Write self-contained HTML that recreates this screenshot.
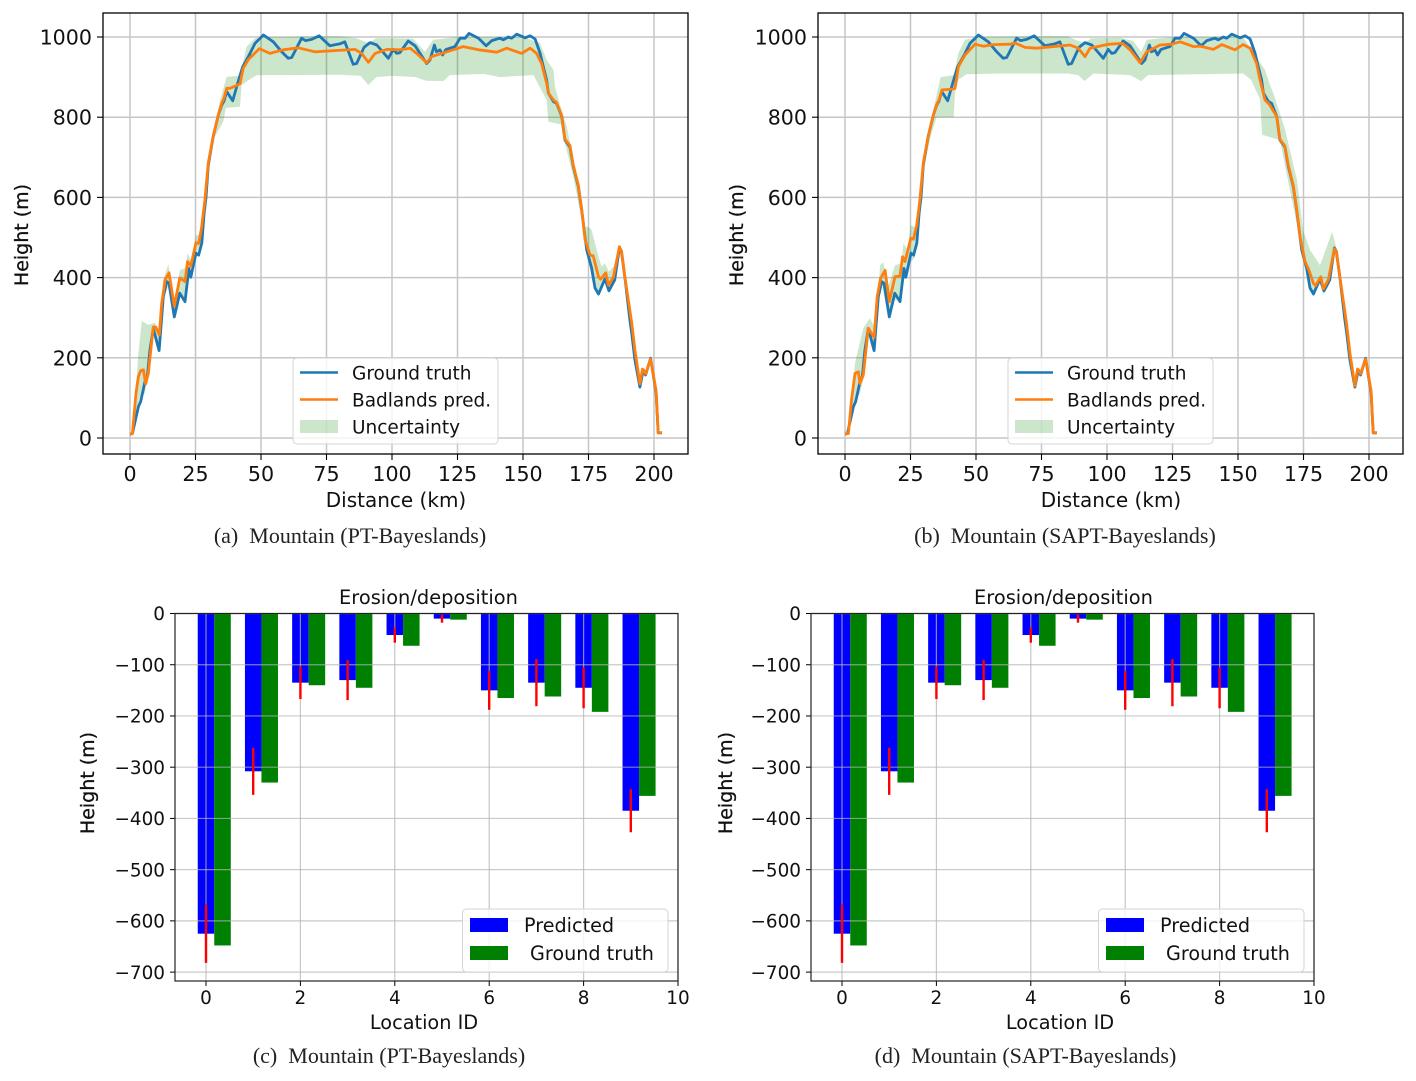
<!DOCTYPE html>
<html lang="en">
<head>
<meta charset="utf-8">
<title>Mountain height and erosion charts</title>
<style>
html,body{margin:0;padding:0;background:#fff;width:1416px;height:1081px;overflow:hidden}
svg{display:block;filter:blur(0.35px)}
text{font-family:"DejaVu Sans","Liberation Sans",sans-serif;fill:#111}
.caption{font-family:"Liberation Serif",serif;font-size:22px;fill:#222;text-anchor:middle}
</style>
</head>
<body>
<svg id="figure" xmlns="http://www.w3.org/2000/svg" width="1416" height="1081" viewBox="0 0 1416 1081"></svg>
<script>
// ---------- Height profile data ----------
const profileXTicks = [0, 25, 50, 75, 100, 125, 150, 175, 200];
const profileYTicks = [0, 200, 400, 600, 800, 1000];

const truthKm = [0,0.9,3.2,4.1,5.7,6.6,7.6,8.9,11.1,12.7,14,14.9,16.9,19,21,22.5,23.2,25.2,26.2,27.4,28.3,29,29.9,31.7,33.7,35,35.9,36.9,39.2,41.3,43,45.2,47.7,50.9,54.7,57.9,60.4,61.7,65.5,67,69.3,72.2,76.3,80.2,82,85.2,86.5,89.3,91.6,94.2,98.6,100.5,101.8,103,106.2,108.8,113.2,114.5,116.2,117,118.3,119.3,120.6,124,126,127.9,129.4,133,135.9,138.1,141.2,142.5,144.4,145.7,147.6,150.8,152.7,154.6,156.5,157.8,159,159.7,161.6,162.8,164.8,166,167.9,169.2,171.1,172.4,173.7,174.3,176.2,177.5,178.8,181.3,182.8,185,186.8,187.6,189,190.8,191.5,192.7,194.6,195.9,196.8,198.7,200.8,201.6,203];
const truthHeight = [10,11,78,91,140,153,219,273,218,352,390,386,302,361,340,423,401,461,456,486,560,600,680,751,805,830,841,864,841,889,926,951,984,1005,988,963,947,949,997,991,994,1003,978,983,988,932,934,974,986,980,947,969,959,961,990,978,934,943,980,963,968,955,969,976,997,997,1009,997,978,991,997,993,1000,997,1007,998,1003,995,960,925,893,860,839,835,801,743,726,677,627,568,500,469,424,374,359,397,367,394,474,464,394,294,262,195,127,170,157,199,112,13,13];

const predAKm = [0,0.9,2.3,3.2,4.1,5.1,6,7,8.9,9.8,11.2,12.1,13.4,14.9,16.9,19,21,22,23.2,25.2,26.2,27.3,28.6,29.9,31.7,33.7,35,35.9,36.9,38.2,42,43.2,45.2,49.4,53.4,58.5,64.2,70.6,85.9,88.4,91,93.5,98,103,106.9,109.4,113.2,115.2,119,127.2,133,140,143.8,149.5,152.7,155.2,157.1,159,159.7,161.6,162.8,164.8,166,167.9,169.2,171.1,172.4,173.7,175.6,176.8,178.8,179.6,181.6,182.6,184.5,186.8,187.6,189,191.5,192.7,194.6,195.6,196.8,198.7,200.8,201.6,203];
const predAHeight = [10,11,112,153,168,170,135,161,277,277,257,336,394,412,329,399,390,440,429,487,485,523,594,686,751,805,835,848,872,872,883,922,944,971,959,968,973,963,969,959,937,959,969,968,972,959,936,951,959,976,968,962,972,959,972,959,934,885,860,843,837,803,745,730,680,630,570,494,456,454,402,396,412,381,401,477,466,396,287,220,135,172,160,197,118,13,13];

const upperAKm = [0.9,1.9,3.2,4.5,7,9.5,11.1,12.7,14.6,16.9,19,21,22,23.2,25.2,27.4,28.5,30,32,34.4,36.9,42,44.5,47.7,52,60,70,80,86.5,91,94,100,108,112.6,115.7,125,150,156.5,159,161.6,162.2,164,166.7,169.2,171.8,173.7,175,176.2,178.8,180,181.3,182.8,185,186.8,188.5,190.8,192.7,194.6,195.9,196.8,198.7,200.8,201.6,203];
const upperAHeight = [11,95,212,292,282,288,262,394,433,344,418,424,461,444,506,506,600,700,770,843,901,903,976,997,1000,1000,1002,1002,997,985,997,997,996,963,993,1000,1000,985,943,918,876,835,776,693,627,527,527,519,452,427,436,415,431,482,452,305,225,135,175,162,202,120,14,14];
const lowerAKm = [0.9,3.8,5.7,7,8.9,10.9,12.7,14.5,16.9,19,21,22.5,25.2,27.4,28.3,30,32.4,35.6,36.6,42,42.6,44.5,48.4,60,80,88,91,94,100,109,113,119.6,122,135,141,154,156,159,159.7,164.8,166,169.2,172.4,174,176.8,178.8,181.3,182.8,185,186.8,189,190.8,192.7,194.6,195.9,196.8,198.7,200.8,201.6,203];
const lowerAHeight = [10,103,112,170,262,219,345,377,304,356,344,410,461,484,555,670,751,789,823,826,880,889,905,905,906,903,880,900,903,900,891,890,905,908,900,905,880,843,789,781,735,652,544,470,386,357,397,367,390,470,392,292,193,125,168,155,197,110,12,12];

const predBKm = [0,1.3,2.5,3.8,5.1,5.7,7,8.9,11.1,12.3,13.6,15.3,16.9,19.1,21,22,22.9,25.1,26.1,27.4,28.6,29.9,31.7,33.7,35,36,37,41,42,43.3,45.8,49.6,52.8,56.6,62.9,64.9,68.7,73.2,85.9,89,91.6,93.5,99.9,101.1,106,108.8,112.6,115.2,120.3,124.7,127.9,133,135.5,140.6,143.8,148.8,152,154.6,157.1,158.4,160.3,162,164.8,166,167.9,169.2,171.1,172.4,173.7,175.6,177,178.8,179.6,181.6,182.6,184.5,186.8,187.6,189,191.5,192.7,194.6,195.6,196.8,198.7,200.8,201.6,203];
const predBHeight = [10,11,95,161,165,136,157,274,251,352,398,418,340,402,404,452,440,498,496,531,594,686,751,805,832,845,868,870,872,926,955,982,977,981,982,985,974,972,980,972,951,972,981,982,984,968,936,963,980,982,988,976,977,969,981,968,981,972,934,893,843,832,801,745,728,680,630,570,500,440,420,385,380,402,372,395,472,462,396,283,212,130,172,160,197,118,13,13];

const upperBKm = [1.3,3.8,7,9.5,11.5,13.4,14.6,16.5,19.1,21.6,22.3,23.8,25.1,26.7,28.6,30.5,33,36.5,41.5,43.3,45.8,52,70,85,89,91.4,94,105,110,113,115.2,125,152,157,160.3,162,164,168,172.5,174.8,177.5,181.3,185.9,187.8,189,191.5,192.7,194.6,195.6,196.8,198.7,200.8,201.6,203];
const upperBHeight = [12,187,274,299,274,431,439,377,431,436,486,469,531,526,610,700,800,900,905,960,993,1000,1002,1002,990,985,997,998,990,963,993,1000,1000,950,918,885,850,768,643,519,469,431,514,469,400,290,218,135,175,163,200,122,14,14];
const lowerBKm = [1.3,3.2,5.7,7.6,8.9,10.7,12.3,14.2,16.4,19,21,22,23,24.8,26.7,28,30,33,35,41.5,42,43.3,46.4,60,85,89,91.4,94.8,108.8,113,115.7,152,155,158.4,159.2,166,169.8,173.7,175.5,177.5,179,181.3,182.8,185,186.8,189,191.5,192.7,194.6,195.9,196.8,198.7,200.8,201.6,203];
const lowerBHeight = [10,77,112,161,262,219,345,380,302,344,344,390,400,436,451,560,670,760,800,800,860,893,907,909,909,905,890,909,905,890,905,909,893,845,756,743,618,494,430,381,357,385,358,385,462,392,278,205,125,168,155,195,110,12,12];

// ---------- Erosion / deposition data ----------
const locationIds = [0, 1, 2, 3, 4, 5, 6, 7, 8, 9];
const predictedValues = [-625, -308, -135, -130, -42, -10, -150, -135, -145, -385];
const groundTruthValues = [-648, -330, -140, -145, -63, -12, -165, -162, -192, -356];
const predictedErrors = [57, 46, 32, 39, 15, 8, 38, 46, 40, 42];
const barXTicks = [0, 2, 4, 6, 8, 10];
const barYTicks = [0, -100, -200, -300, -400, -500, -600, -700];

const svg = document.getElementById('figure');
const NS = 'http://www.w3.org/2000/svg';
function make(tag, attrs, parent, txt) {
  const n = document.createElementNS(NS, tag);
  for (const k in attrs) n.setAttribute(k, attrs[k]);
  if (txt !== undefined) n.textContent = txt;
  parent.appendChild(n);
  return n;
}
function fmt(v) { return String(v).replace('-', '\u2212'); }

function drawProfile(opts) {
  const left = opts.left, right = opts.left + 585, top = 13, bottom = 454;
  const xs = km => opts.left + 27 + km * 2.62;
  const ys = h => 438 - h * 0.401;

  const g = make('g', {}, svg);
  
  

  profileXTicks.forEach(t => {
    const gl = make('line', {x1: xs(t), x2: xs(t), y1: top, y2: bottom, stroke: '#c6c6c6', 'stroke-width': 1.5}, g);
    
    
    const tk = make('line', {x1: xs(t), x2: xs(t), y1: bottom, y2: bottom + 6, stroke: '#000', 'stroke-width': 1.1}, g);
    
    
    const lb = make('text', {x: xs(t), y: 481, 'text-anchor': 'middle', 'font-size': 20.6}, g, fmt(t));
    
    
  });
  profileYTicks.forEach(t => {
    const gl = make('line', {x1: left, x2: right, y1: ys(t), y2: ys(t), stroke: '#c6c6c6', 'stroke-width': 1.5}, g);
    
    
    const tk = make('line', {x1: left - 6, x2: left, y1: ys(t), y2: ys(t), stroke: '#000', 'stroke-width': 1.1}, g);
    
    
    const lb = make('text', {x: left - 11, y: ys(t) + 7.5, 'text-anchor': 'end', 'font-size': 20.6}, g, fmt(t));
    
    
  });

  const upper = opts.upperKm.map((k, i) => xs(k).toFixed(1) + ',' + ys(opts.upperH[i]).toFixed(1));
  const lower = opts.lowerKm.map((k, i) => xs(k).toFixed(1) + ',' + ys(opts.lowerH[i]).toFixed(1)).reverse();
  const band = make('polygon', {points: upper.concat(lower).join(' '), fill: 'green', 'fill-opacity': 0.2}, g);
  
  

  const truthPts = truthKm.map((k, i) => xs(k).toFixed(1) + ',' + ys(truthHeight[i]).toFixed(1)).join(' ');
  const truth = make('polyline', {points: truthPts, fill: 'none', stroke: '#1f77b4', 'stroke-width': 2.8, 'stroke-linejoin': 'round'}, g);
  
  

  const predPts = opts.predKm.map((k, i) => xs(k).toFixed(1) + ',' + ys(opts.predH[i]).toFixed(1)).join(' ');
  const pred = make('polyline', {points: predPts, fill: 'none', stroke: '#ff7f0e', 'stroke-width': 2.8, 'stroke-linejoin': 'round'}, g);
  
  

  const frame = make('rect', {x: left, y: top, width: right - left, height: bottom - top, fill: 'none', stroke: '#000', 'stroke-width': 1.3}, g);
  
  

  const xt = make('text', {x: left + 293, y: 507, 'text-anchor': 'middle', 'font-size': 20}, g, 'Distance (km)');
  
  
  const yt = make('text', {transform: 'translate(' + (left - 75) + ',235) rotate(-90)', 'text-anchor': 'middle', 'font-size': 19, stroke: '#111', 'stroke-width': 0.3}, g, 'Height (m)');
  
  

  // legend
  const lg = make('g', {}, g);
  
  
  const lx = left + 190;
  const box = make('rect', {x: lx, y: 358, width: 205, height: 86, rx: 4, fill: '#fff', 'fill-opacity': 0.8, stroke: '#d4d4d4', 'stroke-width': 1}, lg);
  
  
  const l1 = make('line', {x1: lx + 7, x2: lx + 45, y1: 372.5, y2: 372.5, stroke: '#1f77b4', 'stroke-width': 2.5}, lg);
  
  
  const t1 = make('text', {x: lx + 59, y: 379.5, 'font-size': 18.5}, lg, 'Ground truth');
  
  
  const l2 = make('line', {x1: lx + 7, x2: lx + 45, y1: 399.5, y2: 399.5, stroke: '#ff7f0e', 'stroke-width': 2.5}, lg);
  
  
  const t2 = make('text', {x: lx + 59, y: 406.5, 'font-size': 18.5}, lg, 'Badlands pred.');
  
  
  const l3 = make('rect', {x: lx + 7, y: 420, width: 38, height: 13, fill: 'green', 'fill-opacity': 0.2}, lg);
  
  
  const t3 = make('text', {x: lx + 59, y: 433.5, 'font-size': 18.5}, lg, 'Uncertainty');
  
  

  const cap = make('text', {x: opts.capX, y: 543, class: 'caption'}, g, opts.caption);
  
  
}

function drawBars(opts) {
  const left = opts.left, right = opts.left + 503, top = 613.5, bottom = 981;
  const xs = v => opts.left + 31 + v * 47.2;
  const ys = v => 613.5 - v * 0.5123;
  const barW = 0.35;

  const g = make('g', {}, svg);
  
  

  locationIds.forEach((id, i) => {
    const b = make('rect', {x: xs(id - barW / 2), y: ys(0), width: xs(barW) - xs(0), height: ys(predictedValues[i]) - ys(0), fill: '#0000ff'}, g);
    
    
    const c = make('rect', {x: xs(id + barW / 2), y: ys(0), width: xs(barW) - xs(0), height: ys(groundTruthValues[i]) - ys(0), fill: '#008000'}, g);
    
    
  });

  barXTicks.forEach(t => {
    const gl = make('line', {x1: xs(t), x2: xs(t), y1: top, y2: bottom, stroke: '#b4b4b4', 'stroke-opacity': 0.75, 'stroke-width': 1.2}, g);
    
    
    const tk = make('line', {x1: xs(t), x2: xs(t), y1: bottom, y2: bottom + 5, stroke: '#000', 'stroke-width': 1}, g);
    
    
    const lb = make('text', {x: xs(t), y: 1004, 'text-anchor': 'middle', 'font-size': 18.4}, g, fmt(t));
    
    
  });
  barYTicks.forEach(t => {
    const gl = make('line', {x1: left, x2: right, y1: ys(t), y2: ys(t), stroke: '#b4b4b4', 'stroke-opacity': 0.7, 'stroke-width': 1.2}, g);
    
    
    const tk = make('line', {x1: left - 5, x2: left, y1: ys(t), y2: ys(t), stroke: '#000', 'stroke-width': 1}, g);
    
    
    const lb = make('text', {x: left - 10, y: ys(t) + 6.7, 'text-anchor': 'end', 'font-size': 18.4}, g, fmt(t));
    
    
  });

  locationIds.forEach((id, i) => {
    const e = make('line', {x1: xs(id), x2: xs(id), y1: ys(predictedValues[i] + predictedErrors[i]), y2: ys(predictedValues[i] - predictedErrors[i]), stroke: '#ff0000', 'stroke-width': 2.4}, g);
    
    
  });

  const frame = make('rect', {x: left, y: top, width: right - left, height: bottom - top, fill: 'none', stroke: '#222', 'stroke-width': 1.2}, g);
  
  

  const title = make('text', {x: opts.titleX, y: 604, 'text-anchor': 'middle', 'font-size': 19.4}, g, 'Erosion/deposition');
  
  
  const xt = make('text', {x: left + 249, y: 1029, 'text-anchor': 'middle', 'font-size': 19.3}, g, 'Location ID');
  
  
  const yt = make('text', {transform: 'translate(' + opts.yTitleX + ',783) rotate(-90)', 'text-anchor': 'middle', 'font-size': 19, stroke: '#111', 'stroke-width': 0.3}, g, 'Height (m)');
  
  

  const lg = make('g', {}, g);
  
  
  const lx = left + 287.5;
  const box = make('rect', {x: lx, y: 909, width: 205.5, height: 63, rx: 4, fill: '#fff', 'fill-opacity': 0.8, stroke: '#d4d4d4', 'stroke-width': 1}, lg);
  
  
  const s1 = make('rect', {x: lx + 7.5, y: 918, width: 38, height: 14, fill: '#0000ff'}, lg);
  
  
  const t1 = make('text', {x: lx + 61.5, y: 932, 'font-size': 19.2}, lg, 'Predicted');
  
  
  const s2 = make('rect', {x: lx + 7.5, y: 946, width: 38, height: 14, fill: '#008000'}, lg);
  
  
  const t2 = make('text', {x: lx + 67.5, y: 960, 'font-size': 19.2}, lg, 'Ground truth');
  
  

  const cap = make('text', {x: opts.capX, y: 1063, class: 'caption'}, g, opts.caption);
  
  
}

drawProfile({name: 'panel-a-pt-bayeslands-profile', left: 103, capX: 350, caption: '(a)\u00A0\u00A0Mountain (PT-Bayeslands)',
  predKm: predAKm, predH: predAHeight, upperKm: upperAKm, upperH: upperAHeight, lowerKm: lowerAKm, lowerH: lowerAHeight});
drawProfile({name: 'panel-b-sapt-bayeslands-profile', left: 818, capX: 1065, caption: '(b)\u00A0\u00A0Mountain (SAPT-Bayeslands)',
  predKm: predBKm, predH: predBHeight, upperKm: upperBKm, upperH: upperBHeight, lowerKm: lowerBKm, lowerH: lowerBHeight});
drawBars({name: 'panel-c-pt-bayeslands-erosion', left: 175, titleX: 428.5, yTitleX: 94, capX: 389, caption: '(c)\u00A0\u00A0Mountain (PT-Bayeslands)'});
drawBars({name: 'panel-d-sapt-bayeslands-erosion', left: 811, titleX: 1063.5, yTitleX: 732, capX: 1025.5, caption: '(d)\u00A0\u00A0Mountain (SAPT-Bayeslands)'});
</script>
</body>
</html>
